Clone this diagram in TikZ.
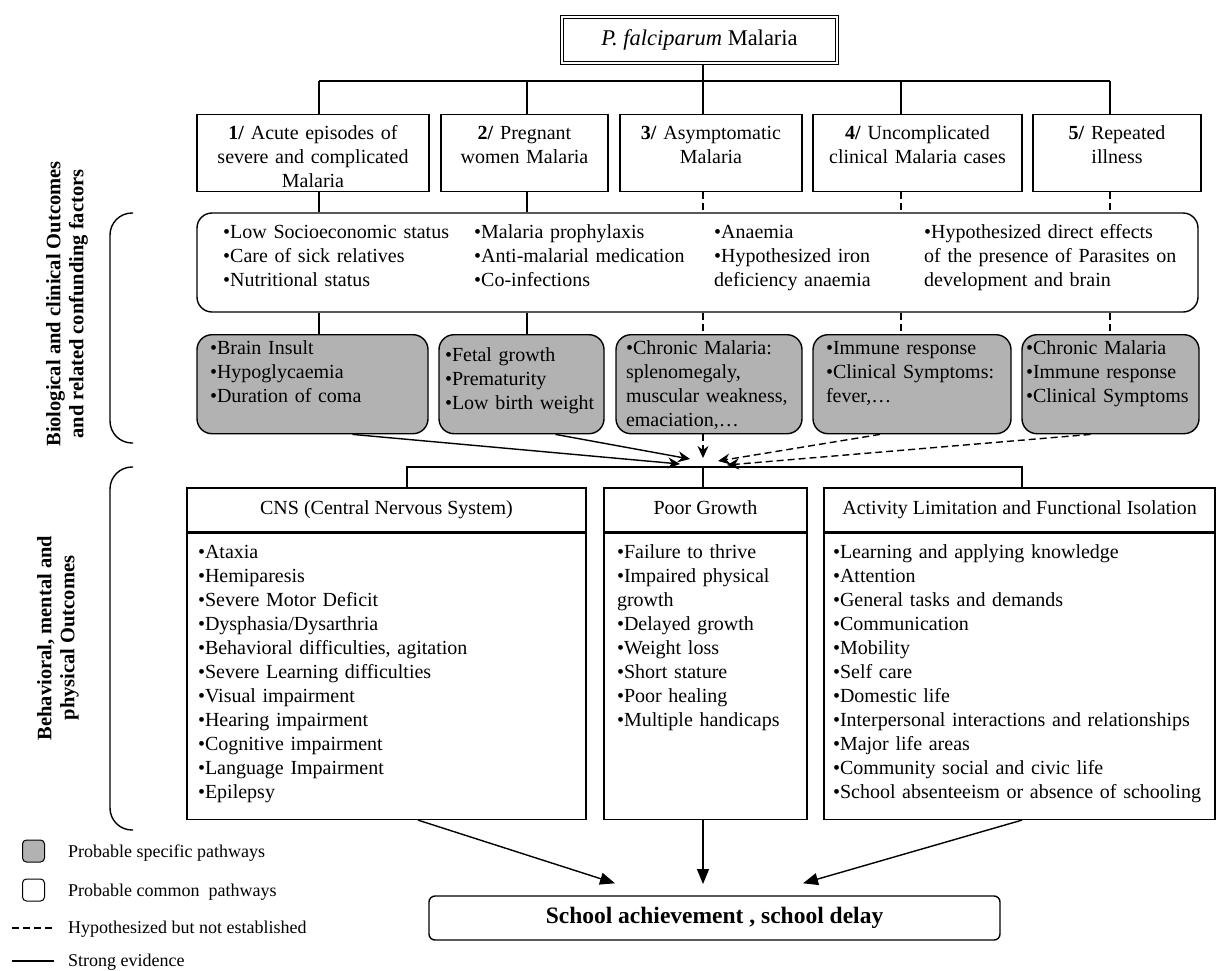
\documentclass[tikz,border=0pt]{standalone}
\usepackage{fontspec}
\setmainfont{Liberation Serif}
\usetikzlibrary{arrows.meta,calc,positioning}
\definecolor{pathgrey}{RGB}{178,178,178}

\tikzset{
  plain/.style={font=\fontsize{20}{24}\selectfont, inner sep=0pt},
  strong/.style={line width=1.4pt},
  hypo/.style={line width=1.4pt, dash pattern=on 7pt off 4pt},
  conv/.style={-{Stealth[length=12pt,width=11pt]}},
  down/.style={-{Triangle[length=15pt,width=12pt]}},
  outcomebox/.style={plain, draw, strong, align=center, anchor=north,
    text height=25pt, text depth=52pt},
  commonbox/.style={plain, draw, strong, rounded corners=15pt},
  specificbox/.style={plain, draw, strong, rounded corners=15pt, fill=pathgrey,
    align=left, anchor=north, text height=20pt, text depth=79pt},
  factorcol/.style={plain, align=left, anchor=base west, text width=240pt},
  headbox/.style={plain, draw, strong, minimum height=44pt, text height=14pt, text depth=5pt},
  listbox/.style={plain, draw, strong, align=left, anchor=north,
    text height=25pt, text depth=261pt},
  sidelabel/.style={rotate=90, align=center, inner sep=0pt,
    font=\fontsize{20.5}{23}\selectfont\bfseries},
  legtext/.style={anchor=base west, inner sep=0pt, font=\fontsize{18}{21}\selectfont}
}

\begin{document}
\begin{tikzpicture}[x=1pt, y=-1pt]
    \useasboundingbox (0,0) rectangle (1216,970);

    % top
    \node[plain, draw, double, double distance=2pt, line width=1pt,
        minimum width=275pt, minimum height=46pt, font=\fontsize{22.5}{26}\selectfont] (malaria) at (699.5,40)
        {\textit{P. falciparum} Malaria};

    % clinical forms
    \node[outcomebox, text width=232pt] (b1) at (313,114)
        {\textbf{1/} Acute episodes of\\severe and complicated\\Malaria};
    \node[outcomebox, text width=167pt] (b2) at (524.5,114)
        {\textbf{2/} Pregnant\\women Malaria};
    \node[outcomebox, text width=182pt] (b3) at (711,114)
        {\textbf{3/} Asymptomatic\\Malaria};
    \node[outcomebox, text width=209pt] (b4) at (917.5,114)
        {\textbf{4/} Uncomplicated\\clinical Malaria cases};
    \node[outcomebox, text width=168pt] (b5) at (1117,114)
        {\textbf{5/} Repeated\\illness};

    % confounding factors
    \node[commonbox, minimum width=1001pt, minimum height=99pt] (factors) at (697.5,262.5) {};
    \node[factorcol] (f1) at (223,238)
        {•Low Socioeconomic status\\•Care of sick relatives\\•Nutritional status};
    \node[factorcol] (f2) at (474,238)
        {•Malaria prophylaxis\\•Anti-malarial medication\\•Co-infections};
    \node[factorcol] (f3) at (714,238)
        {•Anaemia\\•Hypothesized iron\\deficiency anaemia};
    \node[factorcol, text width=270pt] (f4) at (924,238)
        {•Hypothesized direct effects\\of the presence of Parasites on\\development and brain};

    % specific pathways
    \node[specificbox, inner xsep=13pt, text width=205pt] (g1) at (312.5,334)
        {•Brain Insult\\•Hypoglycaemia\\•Duration of coma};
    \node[specificbox, inner xsep=6pt, text width=153pt, text height=27pt, text depth=72pt] (g2) at (521.5,334)
        {•Fetal growth\\•Prematurity\\•Low birth weight};
    \node[specificbox, inner xsep=10pt, text width=166pt] (g3) at (709,334)
        {•Chronic Malaria:\\splenomegaly,\\muscular weakness,\\emaciation,…};
    \node[specificbox, inner xsep=13pt, text width=172pt] (g4) at (912,334)
        {•Immune response\\•Clinical Symptoms:\\fever,…};
    \node[specificbox, inner xsep=4pt, text width=169pt] (g5) at (1110.5,334)
        {•Chronic Malaria\\•Immune response\\•Clinical Symptoms};

    % branch points
    \coordinate (c1) at (319,81);
    \coordinate (c2) at (527,81);
    \coordinate (c3) at (703,81);
    \coordinate (c4) at (901,81);
    \coordinate (c5) at (1110,81);
    \draw[strong] (c3 |- malaria.south) -- (c3);
    \draw[strong] (c1) -- (c5);
    \foreach \i/\s in {1/strong,2/strong,3/hypo,4/hypo,5/hypo} {
        \draw[strong] (c\i) -- (c\i |- b\i.north);
        \draw[\s] (c\i |- b\i.south) -- (c\i |- factors.north);
        \draw[\s] (c\i |- factors.south) -- (c\i |- g\i.north);
    }

    % outcomes
    \node[headbox, minimum width=399pt] (cnsh) at (386.5,510) {CNS (Central Nervous System)};
    \node[listbox, inner xsep=11pt, text width=377pt] (cnsb) at (cnsh.south)
        {•Ataxia\\•Hemiparesis\\•Severe Motor Deficit\\•Dysphasia/Dysarthria\\
         •Behavioral difficulties, agitation\\•Severe Learning difficulties\\
         •Visual impairment\\•Hearing impairment\\•Cognitive impairment\\
         •Language Impairment\\•Epilepsy};
    \node[headbox, minimum width=203pt] (pgh) at (705.5,510) {Poor Growth};
    \node[listbox, inner xsep=13pt, text width=177pt] (pgb) at (pgh.south)
        {•Failure to thrive\\•Impaired physical\\growth\\•Delayed growth\\
         •Weight loss\\•Short stature\\•Poor healing\\•Multiple handicaps};
    \node[headbox, minimum width=391pt] (acth) at (1019.5,510)
        {Activity Limitation and Functional Isolation};
    \node[listbox, inner xsep=9pt, text width=373pt] (actb) at (acth.south)
        {•Learning and applying knowledge\\•Attention\\•General tasks and demands\\
         •Communication\\•Mobility\\•Self care\\•Domestic life\\
         •Interpersonal interactions and relationships\\•Major life areas\\
         •Community social and civic life\\•School absenteeism or absence of schooling};

    % converging arrows
    \coordinate (meet) at (703,462);
    \draw[strong, conv] ($(g1.south)+(40,0)$) -- ($(meet)+(-23,2)$);
    \draw[strong, conv] ($(g2.south)+(34,0)$) -- ($(meet)+(-13,-3)$);
    \draw[hypo, conv] (meet |- g3.south) -- ($(meet)+(0,-4)$);
    \draw[hypo, conv] ($(g4.south)+(-32,0)$) -- ($(meet)+(15,-1)$);
    \draw[hypo, conv] ($(g5.south)+(-20,0)$) -- ($(meet)+(24,3)$);

    \coordinate (jl) at (407,467);
    \coordinate (jr) at (1022,467);
    \draw[strong] (jl |- cnsh.north) -- (jl) -- (jr) -- (jr |- acth.north);
    \draw[strong] (meet |- jl) -- (meet |- pgh.north);

    % school
    \node[draw, strong, rounded corners=6pt, inner sep=0pt, minimum width=571pt,
        minimum height=44pt, font=\fontsize{23.5}{28}\selectfont\bfseries] (school)
        at (714.5,918) {School achievement , school delay};
    \draw[strong, down] ($(cnsb.south)+(31.5,0)$) -- ($(school.north)+(-99.5,-12)$);
    \draw[strong, down] (meet |- pgb.south) -- (meet |- 0,884);
    \draw[strong, down] ($(actb.south)+(2.5,0)$) -- ($(school.north)+(88.5,-12)$);

    % braces and side labels
    \draw[strong, rounded corners=22pt] (133,213) -- (110,213) -- (110,443) -- (133,443);
    \draw[strong, rounded corners=22pt] (133,467) -- (110,467) -- (110,830) -- (133,830);
    \node[sidelabel] (biolab) at (67,304)
        {Biological and clinical Outcomes\\and related confunding factors};
    \node[sidelabel] (behlab) at (58,638)
        {Behavioral, mental and\\physical Outcomes};

    % legend
    \node[draw, line width=1pt, fill=pathgrey, rounded corners=4pt, minimum size=22pt] (legspec) at (33.5,851) {};
    \node[draw, line width=1pt, rounded corners=4pt, minimum size=22pt] (legcomm) at (33.5,890) {};
    \node[legtext] (txtspec) at (68,857) {Probable specific pathways};
    \node[legtext] (txtcomm) at (68,896) {Probable common\ \ pathways};
    \node[legtext] (txthypo) at (68,933) {Hypothesized but not established};
    \node[legtext] (txtstrong) at (68,966) {Strong evidence};
    \coordinate (lh1) at (12,928);
    \coordinate (lh2) at (54,928);
    \coordinate (ls1) at (12,961);
    \coordinate (ls2) at (54,961);
    \draw[hypo] (lh1) -- (lh2);
    \draw[strong] (ls1) -- (ls2);
\end{tikzpicture}
\end{document}
